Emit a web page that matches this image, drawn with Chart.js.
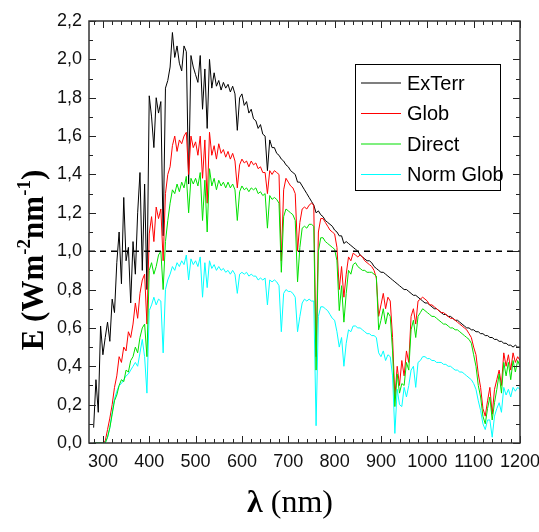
<!DOCTYPE html>
<html>
<head>
<meta charset="utf-8">
<script src="https://cdn.jsdelivr.net/npm/chart.js@4.4.1/dist/chart.umd.min.js"></script>
<style>
  body { margin: 0; background: #fff; }
</style>
</head>
<body>
<canvas id="spectrumChart" width="539" height="532"></canvas>
<script>
// wavelength grid (nm)
const wavelengths = [
  280, 285, 290, 295, 300, 305, 310, 315, 320, 325, 330, 335, 340, 345, 350, 355, 360, 365, 370, 375,
  380, 385, 390, 395, 400, 405, 410, 415, 420, 425, 430, 435, 440, 445, 450, 455, 460, 465, 470, 475,
  480, 485, 490, 495, 500, 505, 510, 515, 520, 525, 530, 535, 540, 545, 550, 555, 560, 565, 570, 575,
  580, 585, 590, 595, 600, 605, 610, 615, 620, 625, 630, 635, 640, 645, 650, 655, 660, 665, 670, 675,
  680, 685, 690, 695, 700, 705, 710, 715, 720, 725, 730, 735, 740, 745, 750, 755, 760, 765, 770, 775,
  780, 785, 790, 795, 800, 805, 810, 815, 820, 825, 830, 835, 840, 845, 850, 855, 860, 865, 870, 875,
  880, 885, 890, 895, 900, 905, 910, 915, 920, 925, 930, 935, 940, 945, 950, 955, 960, 965, 970, 975,
  980, 985, 990, 995, 1000, 1005, 1010, 1015, 1020, 1025, 1030, 1035, 1040, 1045, 1050, 1055, 1060, 1065, 1070, 1075,
  1080, 1085, 1090, 1095, 1100, 1105, 1110, 1115, 1120, 1125, 1130, 1135, 1140, 1145, 1150, 1155, 1160, 1165, 1170, 1175,
  1180, 1185, 1190, 1195, 1200
];

const exTerr = [
  0.08, 0.33, 0.16, 0.61, 0.46, 0.55, 0.63, 0.53, 0.75, 0.68, 0.94, 1.10, 0.83, 1.28, 0.95, 1.02, 0.73, 1.05, 0.88, 1.20,
  1.41, 0.90, 1.35, 0.80, 1.81, 1.70, 1.54, 1.80, 1.72, 1.78, 1.08, 1.85, 1.89, 1.96, 2.14, 2.01, 2.07, 1.98, 1.94, 2.07,
  2.04, 1.35, 2.02, 1.96, 1.92, 1.88, 2.02, 1.74, 1.95, 1.64, 2.00, 1.85, 1.93, 1.86, 1.89, 1.84, 1.88, 1.85, 1.87, 1.83,
  1.86, 1.82, 1.63, 1.80, 1.82, 1.76, 1.78, 1.72, 1.74, 1.69, 1.68, 1.64, 1.66, 1.61, 1.60, 1.42, 1.58, 1.54, 1.54, 1.51,
  1.50, 1.48, 1.47, 1.45, 1.44, 1.42, 1.41, 1.40, 1.36, 1.36, 1.34, 1.32, 1.30, 1.28, 1.26, 1.24, 1.20, 1.21, 1.19, 1.18,
  1.16, 1.15, 1.14, 1.13, 1.11, 1.10, 1.08, 1.08, 1.04, 1.05, 1.04, 1.03, 1.02, 1.01, 1.00, 0.98, 0.97, 0.96, 0.95, 0.95,
  0.94, 0.92, 0.91, 0.90, 0.89, 0.89, 0.88, 0.87, 0.86, 0.85, 0.84, 0.83, 0.82, 0.81, 0.80, 0.80, 0.79, 0.78, 0.77, 0.77,
  0.76, 0.75, 0.74, 0.73, 0.73, 0.72, 0.71, 0.70, 0.70, 0.69, 0.68, 0.67, 0.67, 0.66, 0.66, 0.65, 0.64, 0.64, 0.63, 0.62,
  0.61, 0.60, 0.60, 0.59, 0.59, 0.58, 0.58, 0.57, 0.57, 0.56, 0.56, 0.55, 0.55, 0.54, 0.54, 0.53, 0.53, 0.52, 0.52, 0.51,
  0.51, 0.50, 0.51, 0.50, 0.50
];

const glob = [
  0, 0, 0, 0, 0, 0.01, 0.07, 0.13, 0.20, 0.29, 0.35, 0.45, 0.42, 0.50, 0.48, 0.58, 0.55, 0.62, 0.73, 0.65,
  0.78, 0.85, 0.88, 0.62, 1.09, 1.18, 1.05, 1.23, 1.17, 1.22, 0.95, 1.30, 1.40, 1.44, 1.55, 1.60, 1.52, 1.58, 1.56, 1.60,
  1.62, 1.40, 1.60, 1.54, 1.57, 1.50, 1.60, 1.38, 1.58, 1.25, 1.62, 1.50, 1.55, 1.48, 1.56, 1.51, 1.53, 1.49, 1.52, 1.48,
  1.51, 1.47, 1.33, 1.45, 1.48, 1.46, 1.47, 1.44, 1.47, 1.45, 1.46, 1.43, 1.44, 1.41, 1.41, 1.30, 1.42, 1.40, 1.42, 1.41,
  1.40, 0.95, 1.32, 1.38, 1.36, 1.34, 1.33, 1.30, 1.00, 1.15, 1.22, 1.23, 1.22, 1.24, 1.25, 1.24, 0.45, 1.10, 1.17, 1.17,
  1.15, 1.13, 1.11, 1.10, 1.09, 1.02, 0.80, 0.92, 0.76, 0.88, 0.97, 0.95, 0.99, 0.98, 0.97, 0.98, 0.97, 0.95, 0.94, 0.93,
  0.92, 0.90, 0.86, 0.66, 0.72, 0.78, 0.70, 0.76, 0.74, 0.55, 0.24, 0.40, 0.30, 0.43, 0.35, 0.48, 0.42, 0.66, 0.70, 0.62,
  0.74, 0.75, 0.76, 0.75, 0.74, 0.72, 0.72, 0.71, 0.70, 0.69, 0.68, 0.68, 0.67, 0.66, 0.65, 0.65, 0.64, 0.63, 0.62, 0.61,
  0.60, 0.59, 0.57, 0.55, 0.50, 0.46, 0.36, 0.29, 0.18, 0.14, 0.22, 0.29, 0.15, 0.28, 0.33, 0.38, 0.30, 0.47, 0.40, 0.46,
  0.38, 0.47, 0.42, 0.45, 0.43
];

const direct = [
  0, 0, 0, 0, 0, 0, 0.03, 0.08, 0.15, 0.22, 0.25, 0.30, 0.33, 0.32, 0.38, 0.37, 0.43, 0.45, 0.50, 0.47,
  0.55, 0.60, 0.62, 0.45, 0.90, 0.94, 0.88, 0.92, 0.98, 1.00, 0.80, 1.05, 1.16, 1.25, 1.32, 1.30, 1.35, 1.31, 1.36, 1.33,
  1.39, 1.20, 1.38, 1.35, 1.38, 1.34, 1.41, 1.16, 1.37, 1.10, 1.43, 1.34, 1.38, 1.32, 1.37, 1.34, 1.36, 1.33, 1.36, 1.33,
  1.35, 1.32, 1.16, 1.31, 1.34, 1.32, 1.33, 1.31, 1.33, 1.32, 1.33, 1.30, 1.31, 1.29, 1.30, 1.12, 1.29, 1.27, 1.28, 1.27,
  1.25, 0.89, 1.18, 1.22, 1.21, 1.20, 1.19, 1.16, 0.84, 1.02, 1.12, 1.13, 1.12, 1.14, 1.14, 1.13, 0.38, 1.00, 1.07, 1.07,
  1.05, 1.04, 1.03, 1.02, 1.01, 0.95, 0.69, 0.82, 0.63, 0.78, 0.90, 0.88, 0.93, 0.94, 0.92, 0.91, 0.90, 0.90, 0.89, 0.89,
  0.89, 0.88, 0.87, 0.59, 0.64, 0.70, 0.62, 0.68, 0.66, 0.48, 0.19, 0.36, 0.26, 0.31, 0.30, 0.42, 0.38, 0.59, 0.64, 0.55,
  0.66, 0.68, 0.70, 0.69, 0.68, 0.67, 0.66, 0.66, 0.65, 0.64, 0.63, 0.62, 0.62, 0.61, 0.60, 0.60, 0.59, 0.59, 0.58, 0.57,
  0.56, 0.55, 0.54, 0.52, 0.46, 0.40, 0.30, 0.24, 0.14, 0.10, 0.18, 0.24, 0.12, 0.21, 0.28, 0.36, 0.26, 0.42, 0.35, 0.42,
  0.33, 0.43, 0.37, 0.43, 0.40
];

const normGlob = [
  0, 0, 0, 0, 0, 0, 0.03, 0.08, 0.16, 0.23, 0.27, 0.30, 0.31, 0.33, 0.35, 0.36, 0.38, 0.40, 0.42, 0.40,
  0.47, 0.54, 0.45, 0.26, 0.69, 0.72, 0.76, 0.72, 0.75, 0.74, 0.47, 0.80, 0.85, 0.88, 0.92, 0.90, 0.94, 0.92, 0.95, 0.93,
  0.98, 0.85, 0.96, 0.93, 0.95, 0.92, 0.97, 0.76, 0.94, 0.81, 0.95, 0.91, 0.93, 0.90, 0.92, 0.90, 0.91, 0.89, 0.90, 0.88,
  0.90, 0.88, 0.78, 0.88, 0.89, 0.88, 0.89, 0.87, 0.88, 0.87, 0.87, 0.85, 0.86, 0.85, 0.86, 0.72, 0.85, 0.84, 0.85, 0.84,
  0.82, 0.58, 0.78, 0.80, 0.79, 0.79, 0.78, 0.76, 0.58, 0.66, 0.73, 0.75, 0.74, 0.75, 0.74, 0.74, 0.09, 0.66, 0.71, 0.71,
  0.70, 0.69, 0.67, 0.65, 0.64, 0.58, 0.50, 0.55, 0.40, 0.52, 0.59, 0.58, 0.61, 0.61, 0.60, 0.60, 0.59, 0.58, 0.57, 0.57,
  0.56, 0.56, 0.55, 0.47, 0.45, 0.48, 0.43, 0.46, 0.45, 0.35, 0.05, 0.28, 0.20, 0.19, 0.29, 0.24, 0.30, 0.38, 0.40, 0.29,
  0.42, 0.43, 0.45, 0.45, 0.44, 0.44, 0.43, 0.43, 0.42, 0.42, 0.42, 0.41, 0.41, 0.40, 0.40, 0.39, 0.38, 0.38, 0.37, 0.37,
  0.36, 0.35, 0.34, 0.33, 0.31, 0.28, 0.22, 0.17, 0.10, 0.07, 0.12, 0.12, 0.03, 0.14, 0.18, 0.21, 0.16, 0.29, 0.25, 0.28,
  0.24, 0.29, 0.27, 0.29, 0.28
];

const seriesNames = ['ExTerr', 'Glob', 'Direct', 'Norm Glob'];
const seriesColors = ['#000000', '#ff0000', '#00e000', '#00ffff'];
const xTickLabels = [300, 400, 500, 600, 700, 800, 900, 1000, 1100, 1200];
const yTickLabels = [0, 0.2, 0.4, 0.6, 0.8, 1.0, 1.2, 1.4, 1.6, 1.8, 2.0, 2.2];
const referenceLevel = 1.0;

function toPoints(values) {
    return wavelengths.map((w, i) => ({ x: w, y: values[i] }));
}

const tickFont = { family: '"Liberation Sans", Arial, sans-serif', size: 18 };
const serif = '"Liberation Serif", "Times New Roman", serif';

// frame with inward major/minor ticks on all four sides
const frameTicks = {
    id: 'frameTicks',
    afterDraw(chart) {
        const { ctx, chartArea: a, scales: { x, y } } = chart;
        ctx.save();
        ctx.strokeStyle = '#222';
        ctx.lineWidth = 1;
        ctx.beginPath();
        for (let v = 280; v <= 1200; v += 20) {
            const p = Math.round(x.getPixelForValue(v)) + 0.5;
            const len = v % 100 === 0 ? 7 : 4;
            ctx.moveTo(p, a.bottom); ctx.lineTo(p, a.bottom - len);
            ctx.moveTo(p, a.top); ctx.lineTo(p, a.top + len);
        }
        for (let k = 0; k <= 22; k++) {
            const p = Math.round(y.getPixelForValue(k / 10)) + 0.5;
            const len = k % 2 === 0 ? 7 : 4;
            ctx.moveTo(a.left, p); ctx.lineTo(a.left + len, p);
            ctx.moveTo(a.right, p); ctx.lineTo(a.right - len, p);
        }
        ctx.stroke();
        ctx.strokeStyle = '#333';
        ctx.lineWidth = 1.5;
        ctx.strokeRect(a.left, a.top, a.right - a.left, a.bottom - a.top);
        ctx.restore();
    }
};

// boxed legend inside the plot, top right
const boxLegend = {
    id: 'boxLegend',
    afterDraw(chart) {
        const { ctx, chartArea: a } = chart;
        const left = a.right - 165, top = a.top + 43, w = 145, h = 126;
        ctx.save();
        ctx.fillStyle = '#fff';
        ctx.fillRect(left, top, w, h);
        ctx.strokeStyle = '#000';
        ctx.lineWidth = 1;
        ctx.strokeRect(left + 0.5, top + 0.5, w, h);
        ctx.font = '20px "Liberation Sans", Arial, sans-serif';
        ctx.textBaseline = 'middle';
        ctx.fillStyle = '#000';
        chart.data.datasets.filter(d => seriesNames.includes(d.label)).forEach((d, i) => {
            const yy = top + 19 + i * 30.5;
            ctx.strokeStyle = d.borderColor;
            ctx.lineWidth = 1.2;
            ctx.beginPath();
            ctx.moveTo(left + 6, yy); ctx.lineTo(left + 46, yy);
            ctx.stroke();
            ctx.fillText(d.label, left + 52, yy + 1);
        });
        ctx.restore();
    }
};

// axis titles with superscripts
const axisTitles = {
    id: 'axisTitles',
    afterDraw(chart) {
        const { ctx } = chart;
        ctx.save();
        ctx.fillStyle = '#000';
        ctx.textBaseline = 'alphabetic';
        // y title
        const parts = [
            { t: 'E (Wm', f: 'bold 31px ' + serif, dy: 0 },
            { t: '-2', f: 'bold 19px ' + serif, dy: -13 },
            { t: 'nm', f: 'bold 31px ' + serif, dy: 0 },
            { t: '-1', f: 'bold 19px ' + serif, dy: -13 },
            { t: ')', f: 'bold 31px ' + serif, dy: 0 }
        ];
        let total = 0;
        parts.forEach(p => { ctx.font = p.f; p.w = ctx.measureText(p.t).width; total += p.w; });
        ctx.translate(43, 260);
        ctx.rotate(-Math.PI / 2);
        let cx = -total / 2;
        parts.forEach(p => { ctx.font = p.f; ctx.fillText(p.t, cx, p.dy); cx += p.w; });
        ctx.setTransform(1, 0, 0, 1, 0, 0);
        // x title
        ctx.font = 'bold 32px ' + serif;
        const lw = ctx.measureText('\u03bb').width;
        ctx.font = '32px ' + serif;
        const rw = ctx.measureText(' (nm)').width;
        const sx = 290 - (lw + rw) / 2;
        ctx.font = 'bold 32px ' + serif;
        ctx.fillText('\u03bb', sx, 512);
        ctx.font = '32px ' + serif;
        ctx.fillText(' (nm)', sx + lw, 512);
        ctx.restore();
    }
};

const ctx = document.getElementById('spectrumChart').getContext('2d');
new Chart(ctx, {
    type: 'line',
    data: {
        datasets: [
            { label: seriesNames[0], data: toPoints(exTerr), borderColor: seriesColors[0], order: 3 },
            { label: seriesNames[1], data: toPoints(glob), borderColor: seriesColors[1], order: 2 },
            { label: seriesNames[2], data: toPoints(direct), borderColor: seriesColors[2], order: 1 },
            { label: seriesNames[3], data: toPoints(normGlob), borderColor: seriesColors[3], order: 1 },
            {
                label: 'ref',
                data: [{ x: 270, y: referenceLevel }, { x: 1200, y: referenceLevel }],
                borderColor: '#000', borderWidth: 1.5, borderDash: [6, 5], order: 0
            }
        ]
    },
    options: {
        responsive: false,
        animation: false,
        layout: { padding: { top: 21, right: 19, left: 0, bottom: 0 } },
        elements: {
            point: { radius: 0 },
            line: { borderWidth: 1, tension: 0, fill: false }
        },
        plugins: {
            legend: { display: false },
            tooltip: { enabled: false }
        },
        scales: {
            x: {
                type: 'linear',
                min: 270,
                max: 1200,
                afterBuildTicks: s => { s.ticks = xTickLabels.map(v => ({ value: v })); },
                afterFit: s => { s.height = 89; s.paddingLeft = 0; s.paddingRight = 0; },
                grid: { display: false, drawTicks: false },
                border: { display: false },
                ticks: {
                    padding: 8, color: '#111', font: tickFont, maxRotation: 0, autoSkip: false,
                    callback: v => String(v)
                }
            },
            y: {
                min: 0,
                max: 2.2,
                afterBuildTicks: s => { s.ticks = yTickLabels.map(v => ({ value: v })); },
                afterFit: s => { s.width = 89; s.paddingTop = 0; s.paddingBottom = 0; },
                grid: { display: false, drawTicks: false },
                border: { display: false },
                ticks: {
                    padding: 7, color: '#111', font: tickFont, autoSkip: false,
                    callback: v => v.toFixed(1).replace('.', ',')
                }
            }
        }
    },
    plugins: [frameTicks, boxLegend, axisTitles]
});
</script>
</body>
</html>
